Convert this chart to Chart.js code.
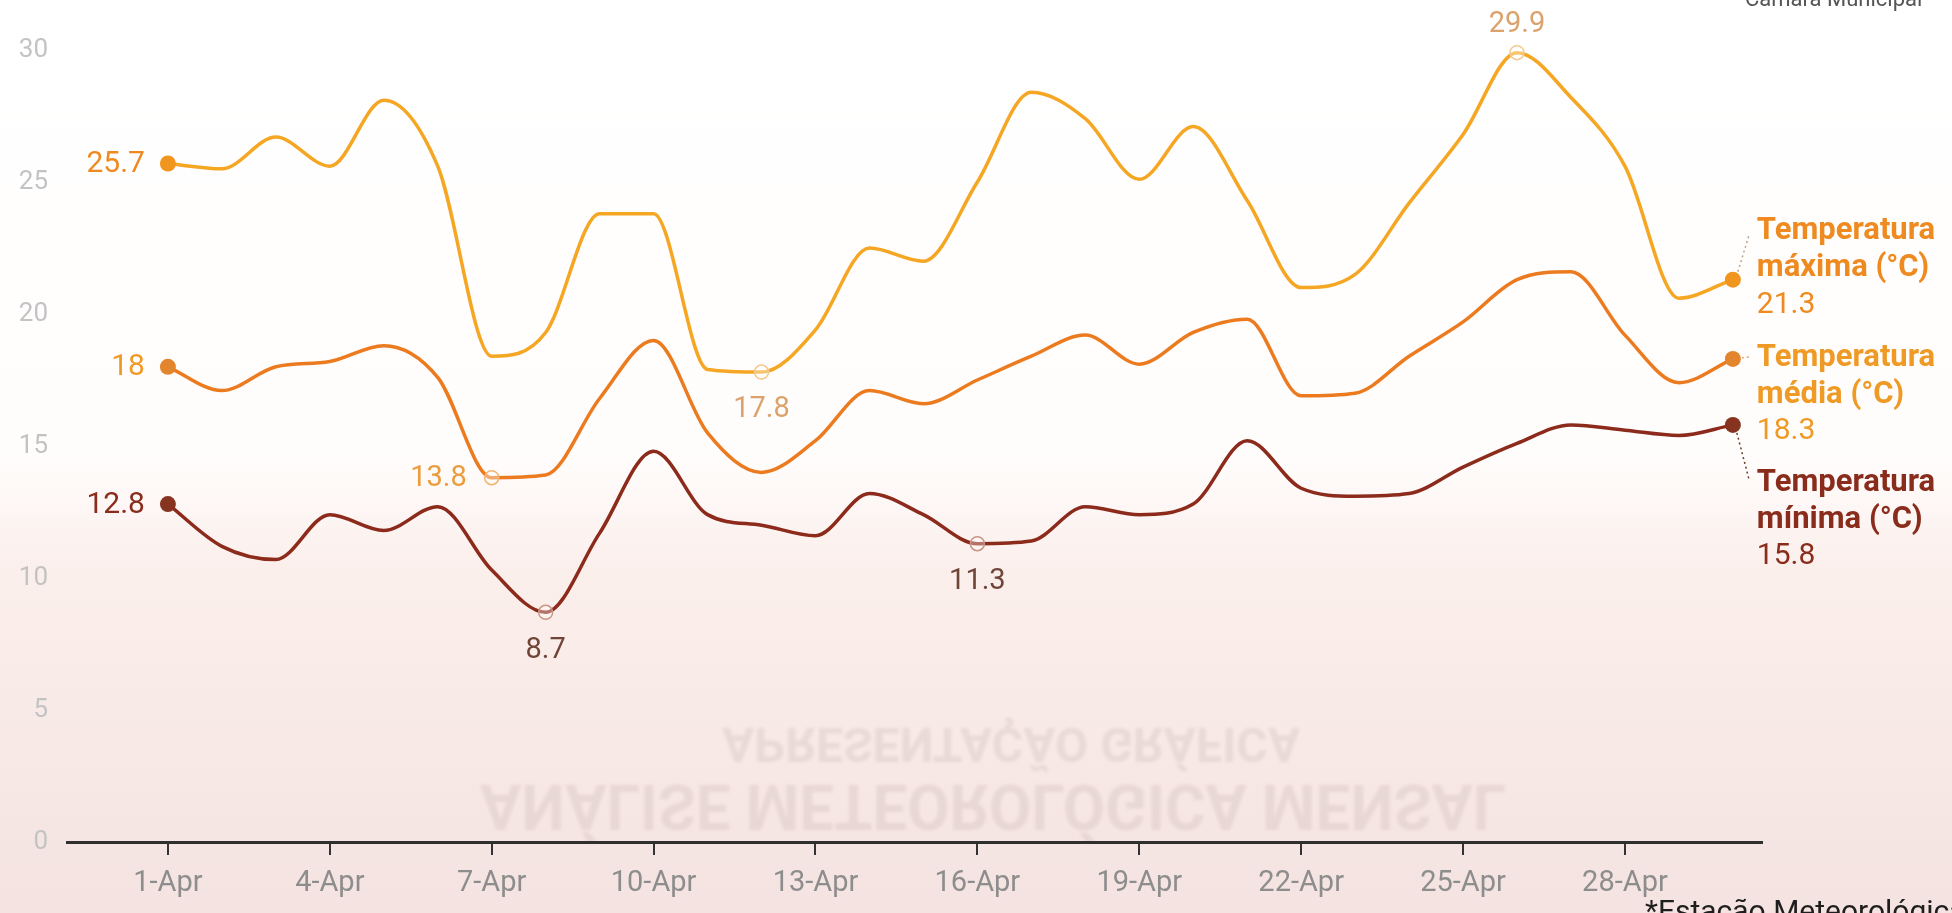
<!DOCTYPE html>
<html>
<head>
<meta charset="utf-8">
<script src="https://cdn.jsdelivr.net/npm/chart.js@4.4.1/dist/chart.umd.min.js"></script>
<style>
  html, body { margin: 0; padding: 0; background: #fff; }
  #chart { display: block; }
</style>
</head>
<body>
<canvas id="chart" width="1952" height="913"></canvas>
<script>
// April, one value per day
const days = [1, 2, 3, 4, 5, 6, 7, 8, 9, 10, 11, 12, 13, 14, 15, 16, 17, 18, 19, 20, 21, 22, 23, 24, 25, 26, 27, 28, 29, 30];
const tickDays = [1, 4, 7, 10, 13, 16, 19, 22, 25, 28];
const monthLabel = 'Apr';

const tmax = [25.7, 25.5, 26.7, 25.6, 28.1, 25.6, 18.4, 19.3, 23.8, 23.8, 17.9, 17.8, 19.4, 22.5, 22.0,
              25.0, 28.4, 27.4, 25.1, 27.1, 24.3, 21.0, 21.5, 24.2, 26.8, 29.9, 28.2, 25.6, 20.6, 21.3];
const tmed = [18.0, 17.1, 18.0, 18.2, 18.8, 17.6, 13.8, 13.9, 16.8, 19.0, 15.5, 14.0, 15.2, 17.1, 16.6,
              17.5, 18.4, 19.2, 18.1, 19.3, 19.8, 16.9, 17.0, 18.4, 19.7, 21.3, 21.6, 19.2, 17.4, 18.3];
const tmin = [12.8, 11.2, 10.7, 12.4, 11.8, 12.7, 10.3, 8.7, 11.7, 14.8, 12.4, 12.0, 11.6, 13.2, 12.4,
              11.3, 11.4, 12.7, 12.4, 12.8, 15.2, 13.4, 13.1, 13.2, 14.2, 15.1, 15.8, 15.6, 15.4, 15.8];

const seriesNames = ['Temperatura máxima (°C)', 'Temperatura média (°C)', 'Temperatura mínima (°C)'];

// points that get a ring and a value label (series index, day index, where the text goes)
const marked = [
  { series: 0, index: 25, place: 'above' },
  { series: 0, index: 11, place: 'below' },
  { series: 1, index: 6, place: 'left' },
  { series: 2, index: 7, place: 'below' },
  { series: 2, index: 15, place: 'below' }
];

const lineColors = ['#f5a623', '#ec7b20', '#8c2a1b'];
const dotColors = ['#f0961f', '#e3852c', '#86331f'];
const textColors = ['#ee8a1f', '#f09a26', '#8a2c1c'];
const noteColors = ['#dca26c', '#eb9d3e', '#6f4537'];
const ringColors = ['#f3c98f', '#f2b56f', '#c99584'];

Chart.defaults.font.family = 'Roboto';

function toPoints(values) {
    return values.map((v, i) => ({ x: days[i], y: v }));
}

function isEnd(ctx) {
    return ctx.dataIndex === 0 || ctx.dataIndex === days.length - 1;
}
function isMarked(ctx) {
    return marked.some(m => m.series === ctx.datasetIndex && m.index === ctx.dataIndex);
}

// paper background with the faint show-through from the back of the page
const paper = {
    id: 'paper',
    beforeDraw(chart) {
        const c = chart.ctx;
        c.save();
        const g = c.createLinearGradient(0, 0, 0, chart.height);
        g.addColorStop(0, '#ffffff');
        g.addColorStop(0.5, '#fffdfc');
        g.addColorStop(0.62, '#fbefec');
        g.addColorStop(1, '#f4e3e0');
        c.fillStyle = g;
        c.fillRect(0, 0, chart.width, chart.height);

        c.filter = 'blur(1.5px)';
        c.fillStyle = 'rgba(90, 60, 60, 0.085)';
        c.textAlign = 'center';
        c.textBaseline = 'alphabetic';
        c.scale(1, -1);
        c.font = 'bold 48px Roboto';
        c.fillText('APRESENTAÇÃO GRÁFICA', 1011, -728, 591);
        c.font = 'bold 63px Roboto';
        c.fillText('ANÁLISE METEOROLÓGICA MENSAL', 993, -785, 1026);
        c.restore();

        c.save();
        c.fillStyle = '#555';
        c.font = '22px Roboto';
        c.textAlign = 'left';
        c.fillText('Câmara Municipal', 1745, 6);
        c.restore();
    }
};

const valueLabels = {
    id: 'valueLabels',
    afterDatasetsDraw(chart) {
        const c = chart.ctx;
        c.save();
        const legendOffsets = [-48, -1, 58];
        chart.data.datasets.forEach((ds, i) => {
            const pts = chart.getDatasetMeta(i).data;
            const first = pts[0];
            const last = pts[pts.length - 1];

            // first value, left of the start dot
            c.font = '30px Roboto';
            c.fillStyle = textColors[i];
            c.textAlign = 'right';
            c.textBaseline = 'middle';
            c.fillText(String(ds.data[0].y), first.x - 23, first.y + 1);

            // series name and last value at the right
            const words = seriesNames[i].split(' ');
            const top = last.y + legendOffsets[i];
            const tx = last.x + 24;
            c.textAlign = 'left';
            c.font = 'bold 31px Roboto';
            c.fillText(words[0], tx, top);
            c.fillText(words.slice(1).join(' '), tx, top + 37);
            c.font = '30px Roboto';
            c.fillText(String(ds.data[ds.data.length - 1].y), tx, top + 74);

            // dotted connectors
            c.setLineDash([2, 3]);
            c.lineWidth = 1.5;
            c.beginPath();
            if (i === 0) {
                c.strokeStyle = '#c0a088';
                c.moveTo(last.x + 5, last.y - 8);
                c.lineTo(last.x + 16, last.y - 44);
            } else if (i === 1) {
                c.strokeStyle = '#e9a060';
                c.moveTo(last.x + 9, last.y - 1);
                c.lineTo(last.x + 16, last.y - 2);
            } else {
                c.strokeStyle = '#6b3a2a';
                c.moveTo(last.x + 4, last.y + 8);
                c.lineTo(last.x + 16, last.y + 54);
            }
            c.stroke();
            c.setLineDash([]);
        });

        // min / max notes
        c.font = '29px Roboto';
        c.textBaseline = 'middle';
        marked.forEach(m => {
            const p = chart.getDatasetMeta(m.series).data[m.index];
            const v = String(chart.data.datasets[m.series].data[m.index].y);
            c.fillStyle = noteColors[m.series];
            if (m.place === 'above') {
                c.textAlign = 'center';
                c.fillText(v, p.x, p.y - 28);
            } else if (m.place === 'below') {
                c.textAlign = 'center';
                c.fillText(v, p.x, p.y + 38);
            } else {
                c.textAlign = 'right';
                c.fillText(v, p.x - 25, p.y + 1);
            }
        });

        // footnote, cut by the bottom edge
        c.font = '30px Roboto';
        c.fillStyle = '#1e1e1e';
        c.textAlign = 'left';
        c.textBaseline = 'alphabetic';
        c.fillText('*Estação Meteorológica', 1645, 921);
        c.restore();
    }
};

function makeDataset(values, i) {
    return {
        label: seriesNames[i],
        data: toPoints(values),
        borderColor: lineColors[i],
        borderWidth: 3.5,
        tension: 0.4,
        cubicInterpolationMode: 'monotone',
        fill: false,
        clip: false,
        pointRadius: ctx => isEnd(ctx) ? 8 : (isMarked(ctx) ? 7 : 0),
        pointHoverRadius: ctx => isEnd(ctx) ? 8 : (isMarked(ctx) ? 7 : 0),
        pointBackgroundColor: ctx => isEnd(ctx) ? dotColors[i] : 'rgba(255,255,255,0.35)',
        pointBorderColor: ctx => isEnd(ctx) ? dotColors[i] : ringColors[i],
        pointBorderWidth: ctx => isEnd(ctx) ? 0 : 1.5
    };
}

new Chart(document.getElementById('chart'), {
    type: 'line',
    data: {
        datasets: [makeDataset(tmax, 0), makeDataset(tmed, 1), makeDataset(tmin, 2)]
    },
    options: {
        responsive: false,
        animation: false,
        devicePixelRatio: 1,
        layout: { padding: { top: 50, right: 190, bottom: 0, left: 0 } },
        plugins: {
            legend: { display: false },
            tooltip: { enabled: false }
        },
        scales: {
            x: {
                type: 'linear',
                min: -0.87,
                max: 30.54,
                afterBuildTicks: scale => {
                    scale.ticks = tickDays.map(d => ({ value: d }));
                },
                afterFit: scale => { scale.height = 71; },
                ticks: {
                    autoSkip: false,
                    maxRotation: 0,
                    padding: 11,
                    color: '#8d8d8d',
                    font: { size: 29 },
                    callback: v => v + '-' + monthLabel
                },
                grid: {
                    drawOnChartArea: false,
                    drawTicks: true,
                    tickLength: 13,
                    color: '#333',
                    lineWidth: 2
                },
                border: { display: true, color: '#2f2f2f', width: 3 }
            },
            y: {
                min: 0,
                max: 30,
                afterFit: scale => { scale.width = 67; },
                ticks: {
                    stepSize: 5,
                    padding: 19,
                    color: '#c3c3c3',
                    font: { size: 26 }
                },
                grid: { display: false, drawTicks: false },
                border: { display: false }
            }
        }
    },
    plugins: [paper, valueLabels]
});
</script>
</body>
</html>
